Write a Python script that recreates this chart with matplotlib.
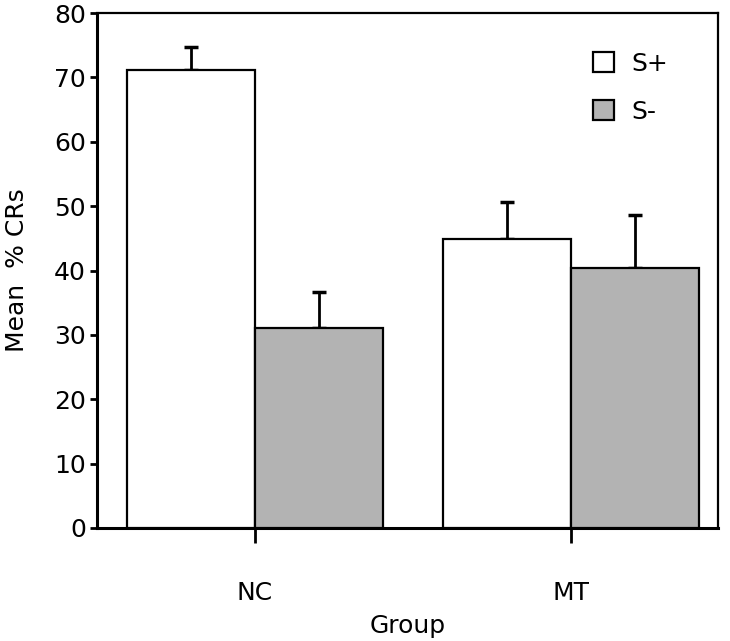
import matplotlib
matplotlib.use("Agg")
import matplotlib.pyplot as plt
from matplotlib.patches import Patch
import numpy as np

groups = ["NC", "MT"]
splus = [71.2, 44.9]
splus_err = [3.5, 5.7]
sminus = [31.1, 40.4]
sminus_err = [5.6, 8.2]
series_labels = ["S+", "S-"]
yticks = [0, 10, 20, 30, 40, 50, 60, 70, 80]

plt.rcParams['font.family'] = ['DejaVu Sans']

fig = plt.figure(figsize=(7.3, 6.41), dpi=100)
ax = fig.add_axes([0.1329, 0.1763, 0.9836 - 0.1329, 0.9797 - 0.1763])

x = np.arange(len(groups))
w = 0.405
ax.bar(x - w / 2, splus, width=w, color="white", edgecolor="black", linewidth=1.6, zorder=3)
ax.bar(x + w / 2, sminus, width=w, color="#b3b3b3", edgecolor="black", linewidth=1.6, zorder=3)
ax.errorbar(x - w / 2, splus, yerr=[np.zeros(len(splus)), splus_err], fmt="none",
            ecolor="black", elinewidth=2, capsize=5, capthick=2.5, zorder=2)
ax.errorbar(x + w / 2, sminus, yerr=[np.zeros(len(sminus)), sminus_err], fmt="none",
            ecolor="black", elinewidth=2, capsize=5, capthick=2.5, zorder=2)

ax.set_xlim(-0.5, 1.465)
ax.set_ylim(0, 80)
ax.set_yticks(yticks)
ax.set_xticks(x)
ax.set_xticklabels(groups)
ax.tick_params(axis="y", direction="out", length=5, width=2, labelsize=18, pad=3)
ax.tick_params(axis="x", direction="out", length=11, width=2, labelsize=18, pad=27)
for s in ["left", "bottom"]:
    ax.spines[s].set_linewidth(2.2)
for s in ["top", "right"]:
    ax.spines[s].set_linewidth(1.6)

ax.set_ylabel("Mean  % CRs", fontsize=18, labelpad=18)
ax.set_xlabel("Group", fontsize=18, labelpad=7)

handles = [Patch(facecolor="white", edgecolor="black", linewidth=1.6),
           Patch(facecolor="#b3b3b3", edgecolor="black", linewidth=1.6)]
leg = ax.legend(handles, series_labels, loc="upper left", bbox_to_anchor=(593 / 730, 1 - 52 / 641),
                bbox_transform=fig.transFigure, frameon=False, fontsize=18,
                handlelength=0.85, handleheight=0.85, handletextpad=0.7,
                labelspacing=0.95, borderpad=0, borderaxespad=0)

fig.savefig("out.png", dpi=100)
